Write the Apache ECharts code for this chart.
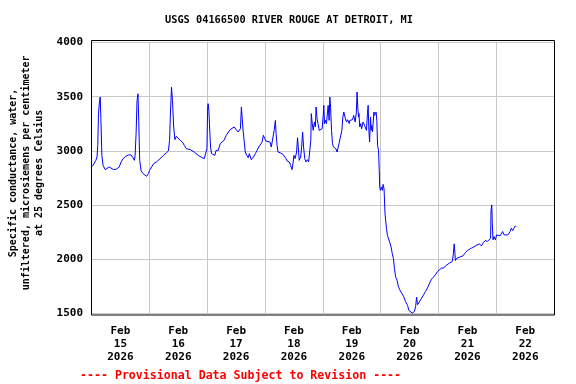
<!DOCTYPE html>
<html>
<head>
<meta charset="utf-8">
<script src="https://cdn.jsdelivr.net/npm/echarts@6/dist/echarts.min.js"></script>
<style>
html,body{margin:0;padding:0;background:#fff;}
#chart{width:576px;height:384px;}
</style>
</head>
<body>
<div id="chart"></div>
<script>
// Hours since 2026-02-15 00:00 (local)
var hours = [
0.4,1.2,1.8,2.3,2.6,2.9,3.3,3.6,3.9,4.3,4.8,5.7,6.5,7.3,8.1,9.2,10.4,11.5,12.3,13.1,14.2,15.3,16.4,17.2,17.8,18.1,18.5,18.9,19.3,19.6,20.0,20.6,21.4,22.2,22.9,23.6,24.1,24.9,25.8,26.9,28.0,28.8,29.9,31.0,31.9,32.4,32.7,33.2,33.6,34.1,34.6,35.2,36.0,
36.8,37.7,38.5,39.3,40.1,41.0,41.8,42.6,43.4,44.3,45.1,45.9,46.8,47.6,47.9,48.2,48.4,48.7,49.0,49.4,49.8,50.4,51.2,51.7,52.6,53.4,54.2,55.0,55.9,56.7,57.5,58.3,59.2,60.0,60.8,61.4,61.8,62.2,62.6,62.9,63.4,63.8,64.4,65.0,65.5,66.3,67.2,68.0,68.8,69.4,70.2,70.8,71.3,71.9,72.4,73.2,
74.1,74.6,75.4,75.8,76.3,76.6,77.0,77.4,78.0,78.5,79.4,80.2,80.7,81.2,82.1,82.6,83.2,83.7,84.0,84.5,85.1,85.5,85.8,86.2,86.8,87.2,87.6,88.0,88.5,89.0,89.6,90.1,90.7,91.0,91.2,91.6,92.0,92.5,92.9,93.2,93.6,94.0,94.5,95.1,95.7,96.1,96.4,96.7,97.1,97.5,97.8,98.2,98.6,98.9,99.2,99.6,100.0,100.4,100.8,101.4,101.9,102.2,102.7,103.3,103.9,104.3,104.7,105.2,105.8,106.3,106.9,
107.2,107.7,108.3,108.8,109.4,109.9,110.2,110.5,110.8,111.0,111.3,111.7,112.1,112.7,113.3,113.7,114.1,114.5,114.8,115.1,115.4,115.8,116.0,116.3,116.6,116.9,117.2,117.4,117.9,118.1,118.4,118.7,119.1,119.4,119.6,119.9,120.3,120.7,121.0,121.4,121.8,122.4,122.8,123.3,123.7,124.3,124.8,125.3,125.7,126.2,126.8,
127.3,127.9,128.7,129.5,130.3,131.2,131.7,132.3,133.1,134.0,134.5,134.9,135.3,135.9,136.4,137.0,137.8,138.6,139.4,140.3,141.1,141.9,142.7,143.6,144.4,145.2,146.1,146.9,147.7,148.5,149.1,149.7,150.2,150.5,150.8,151.0,151.6,152.1,152.7,153.2,154.1,154.9,
155.2,156.0,156.8,157.6,158.5,159.3,160.1,161.0,161.8,162.6,163.4,164.3,165.1,165.6,165.8,166.1,166.3,166.6,167.0,167.6,168.1,168.7,169.5,170.1,170.6,171.2,172.0,172.8,173.7,174.2,174.8,175.3,175.9,176.2
];
// Specific conductance, uS/cm at 25 C
var conductance = [
2857,2866,2912,2943,3051,3343,3451,3497,3297,2958,2866,2826,2835,2851,2838,2826,2832,2851,2897,2928,2949,2962,2962,2937,2912,2958,3158,3465,3527,3281,2912,2814,2789,2783,2765,2789,2820,2820,2882,2897,2918,2912,2958,2980,2999,3097,3312,3588,3465,3220,3103,3134,3121,
3097,3081,3051,3020,3029,3011,3020,2989,2980,2958,2949,2937,2928,2918,3020,3404,3435,3374,3220,3035,2974,2958,2958,3004,3004,3066,3081,3097,3143,3158,3195,3204,3220,3204,3174,3158,3204,3404,3420,3189,3081,2989,2958,2937,2974,2918,2943,2974,2989,3035,3041,3081,3143,3127,3090,3100,
3081,3035,3020,3189,3281,3158,3051,2989,3004,2980,2968,2980,2928,2906,2897,2866,2826,2897,2958,2928,2989,3121,3035,2912,2943,3035,3174,3035,2928,2897,2918,2897,2912,3097,3343,3251,3189,3266,3220,3404,3297,3251,3189,3195,3204,3312,3420,3251,3281,3251,3235,3420,3281,3497,3404,3189,3066,3035,3051,3020,2989,2980,3066,3072,3189,3312,3358,3312,3266,3287,3251,
3281,3266,3287,3327,3266,3358,3543,3404,3312,3343,3220,3251,3204,3266,3235,3251,3189,3343,3420,3189,3081,3312,3189,3235,3174,3158,3358,3327,3343,3358,3281,3051,3004,2820,2666,2635,2666,2635,2690,2650,2420,2282,2220,2236,2159,2113,2052,2005,1913,1836,1805,
1750,1717,1686,1656,1609,1570,1526,1508,1502,1517,1563,1650,1579,1601,1609,1640,1671,1702,1733,1779,1815,1834,1855,1886,1895,1917,1917,1938,1947,1963,1957,1978,2055,2141,2055,1987,2009,1993,2018,2009,2030,2040,
2061,2080,2070,2101,2110,2101,2132,2141,2122,2153,2172,2163,2178,2193,2455,2501,2332,2178,2209,2178,2224,2209,2215,2209,2255,2224,2233,2224,2255,2286,2264,2286,2307,2300
];
var dayTickHours = [12,36,60,84,108,132,156,180];
var dayTickLabels = ['Feb\n15\n2026','Feb\n16\n2026','Feb\n17\n2026','Feb\n18\n2026','Feb\n19\n2026','Feb\n20\n2026','Feb\n21\n2026','Feb\n22\n2026'];
var yTicks = [1500,2000,2500,3000,3500,4000];

var FONT = 'DejaVu Sans Mono';
var chart = echarts.init(document.getElementById('chart'), null, {renderer:'canvas'});
var data = hours.map(function(h,i){return [h, conductance[i]];});

chart.setOption({
  animation:false,
  backgroundColor:'#fff',
  title:[
    {text:'USGS 04166500 RIVER ROUGE AT DETROIT, MI', left:160, top:10,
     textStyle:{fontFamily:FONT, fontWeight:'bold', fontSize:10.3, color:'#000'}},
    {text:'---- Provisional Data Subject to Revision ----', left:75, top:365,
     textStyle:{fontFamily:FONT, fontWeight:'bold', fontSize:11.6, color:'#ff0000'}}
  ],
  grid:{left:91.5, right:21.8, top:42.5, bottom:70.7, containLabel:false, outerBoundsMode:'none'},
  xAxis:[
    {type:'value', min:0, max:192, interval:24,
     axisLine:{show:false}, axisTick:{show:false}, axisLabel:{show:false},
     splitLine:{show:true, lineStyle:{color:'#c8c8c8', width:1}}},
    {type:'value', min:0, max:192, position:'bottom',
     axisLine:{show:false}, axisTick:{show:false}, splitLine:{show:false},
     axisLabel:{show:true, customValues:dayTickHours, margin:11,
       fontFamily:FONT, fontWeight:'bold', fontSize:11, lineHeight:13, color:'#000',
       formatter:function(v){var i=dayTickHours.indexOf(v);return i>=0?dayTickLabels[i]:'';}}}
  ],
  yAxis:{type:'value', min:yTicks[0], max:yTicks[yTicks.length-1], interval:500,
    name:'Specific conductance, water,\nunfiltered, microsiemens per centimeter\nat 25 degrees Celsius',
    nameLocation:'middle', nameRotate:90, nameGap:46,
    nameTextStyle:{fontFamily:FONT, fontWeight:'bold', fontSize:10, lineHeight:13, color:'#000', align:'center', padding:[0,0,0,10]},
    axisLine:{show:false}, axisTick:{show:false},
    axisLabel:{margin:8.5, fontFamily:FONT, fontWeight:'bold', fontSize:11, color:'#000',
      formatter:function(v){return String(v);}},
    splitLine:{show:true, lineStyle:{color:'#c8c8c8', width:1}}},
  graphic:[{type:'rect', z:100, silent:true,
    shape:{x:91.5, y:40.5, width:463, height:274.5},
    style:{fill:null, stroke:'#000', lineWidth:1}}],
  series:[{type:'line', xAxisIndex:0, data:data, showSymbol:false, clip:false,
    lineStyle:{color:'#0000ff', width:1}, itemStyle:{color:'#0000ff'}}]
});
</script>
</body>
</html>
